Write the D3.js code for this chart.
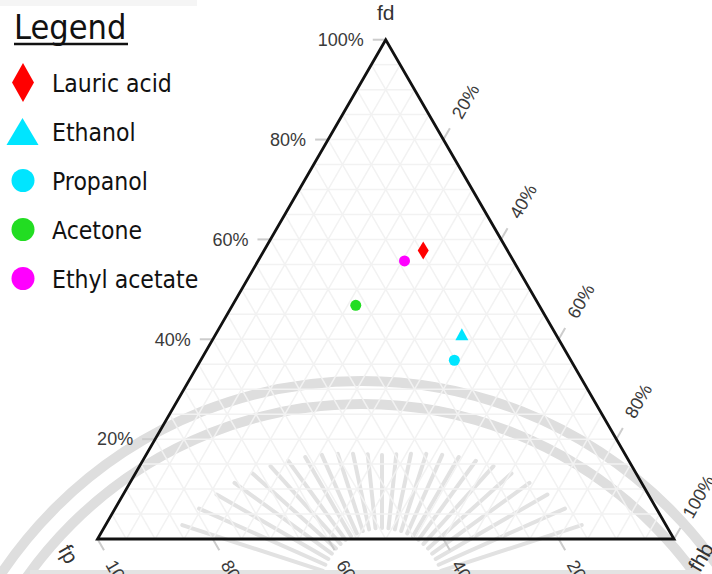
<!DOCTYPE html>
<html>
<head>
<meta charset="utf-8">
<script src="https://cdn.jsdelivr.net/npm/d3@7"></script>
<style>
  html, body { margin: 0; padding: 0; background: #fff; }
  svg { display: block; }
</style>
</head>
<body>
<script>
// Solvent components and their fractional solubility parameters (fd, fp, fhb)
const components = ["Lauric acid", "Ethanol", "Propanol", "Acetone", "Ethyl acetate"];
const fd  = [0.578, 0.410, 0.358, 0.468, 0.557];
const fp  = [0.146, 0.163, 0.202, 0.318, 0.189];
const fhb = [0.276, 0.427, 0.440, 0.214, 0.254];
const markerShapes = ["diamond", "triangle", "circle", "circle", "circle"];
const markerColors = ["#ff0000", "#00e5ff", "#00e5ff", "#22dd22", "#ff00ff"];

const axisTitles = { a: "fd", b: "fp", c: "fhb" };
const tickValues = [0.2, 0.4, 0.6, 0.8, 1.0];
const gridValues = d3.range(1, 20).map(i => i / 20);
const pct = d3.format(".0%");

const W = 712, H = 574;
const svg = d3.select("body").append("svg").attr("width", W).attr("height", H);

// Ternary projection: x from (c + a/2), y from a
const xScale = d3.scaleLinear().domain([0, 1]).range([97.5, 674]);
const yScale = d3.scaleLinear().domain([0, 1]).range([539, 39.7]);
function proj(a, b, c) {
  const s = a + b + c;
  return [xScale((c + a / 2) / s), yScale(a / s)];
}

const tickFont = "'Liberation Sans', Arial, sans-serif";
const legendFont = "'DejaVu Sans Condensed', 'DejaVu Sans', sans-serif";

// ---- faint background emblem (arcs + sunburst) ----
const emblem = svg.append("g").attr("class", "emblem").attr("fill", "none");
const arcCenter = [362, 815];
[434, 411].forEach(r => {
  emblem.append("circle")
    .attr("cx", arcCenter[0]).attr("cy", arcCenter[1]).attr("r", r)
    .attr("stroke", "#dedede").attr("stroke-width", 10);
});
const rayCenter = [382, 590];
d3.range(-72, 73, 6).forEach(deg => {
  const t = deg * Math.PI / 180;
  const r0 = 62, r1 = 135 + 75 * Math.pow(Math.abs(deg) / 72, 1.6);
  emblem.append("line")
    .attr("x1", rayCenter[0] + r0 * Math.sin(t)).attr("y1", rayCenter[1] - r0 * Math.cos(t))
    .attr("x2", rayCenter[0] + r1 * Math.sin(t)).attr("y2", rayCenter[1] - r1 * Math.cos(t))
    .attr("stroke", "#e2e2e2").attr("stroke-width", 4).attr("stroke-linecap", "round");
});
emblem.append("rect").attr("x", 30).attr("y", 570).attr("width", 670).attr("height", 4)
  .attr("fill", "#e3e3e3");

// ---- grid ----
const grid = svg.append("g").attr("stroke", "#f2f2f2").attr("stroke-width", 1.5);
gridValues.forEach(v => {
  [[proj(v, 1 - v, 0), proj(v, 0, 1 - v)],
   [proj(1 - v, v, 0), proj(0, v, 1 - v)],
   [proj(1 - v, 0, v), proj(0, 1 - v, v)]].forEach(([p, q]) => {
    grid.append("line").attr("x1", p[0]).attr("y1", p[1]).attr("x2", q[0]).attr("y2", q[1]);
  });
});

// ---- ticks and tick labels ----
const ticks = svg.append("g");
const tickLen = 13, labelGap = 26;
function addTick(P, dir, label, rot, anchor, gap) {
  ticks.append("line")
    .attr("x1", P[0]).attr("y1", P[1])
    .attr("x2", P[0] + tickLen * dir[0]).attr("y2", P[1] + tickLen * dir[1])
    .attr("stroke", "#cccccc").attr("stroke-width", 2);
  const lx = P[0] + gap * dir[0], ly = P[1] + gap * dir[1];
  ticks.append("text")
    .attr("transform", `translate(${lx},${ly}) rotate(${rot})`)
    .attr("text-anchor", anchor).attr("dy", "0.35em")
    .attr("font-family", tickFont).attr("font-size", 18).attr("fill", "#3a3a3a")
    .text(label);
}
const sin60 = Math.sqrt(3) / 2;
tickValues.forEach(v => {
  addTick(proj(v, 1 - v, 0), [-1, 0], pct(v), 0, "end", 22);        // fd along left edge
  addTick(proj(0, v, 1 - v), [0.5, sin60], pct(v), 60, "start", labelGap);   // fp along bottom
  addTick(proj(1 - v, 0, v), [0.5, -sin60], pct(v), -60, "start", labelGap); // fhb along right edge
});

// ---- triangle outline ----
const corners = [proj(1, 0, 0), proj(0, 1, 0), proj(0, 0, 1)];
svg.append("path")
  .attr("d", d3.line()(corners) + "Z")
  .attr("fill", "none").attr("stroke", "#111").attr("stroke-width", 2.8)
  .attr("stroke-linejoin", "miter");

// ---- axis titles ----
const titleG = svg.append("g").attr("font-family", tickFont).attr("font-size", 21).attr("fill", "#333");
titleG.append("text").attr("x", proj(1, 0, 0)[0]).attr("y", 20).attr("text-anchor", "middle").text(axisTitles.a);
titleG.append("text").attr("transform", `translate(${proj(0, 1, 0)[0] - 29},${proj(0, 1, 0)[1] + 15}) rotate(60)`)
  .attr("text-anchor", "middle").attr("dy", "0.35em").text(axisTitles.b);
titleG.append("text").attr("transform", `translate(${proj(0, 0, 1)[0] + 27},${proj(0, 0, 1)[1] + 18}) rotate(-60)`)
  .attr("text-anchor", "middle").attr("dy", "0.35em").text(axisTitles.c);

// ---- marker shapes ----
function markerPath(shape, w, h) {
  if (shape === "diamond") return `M0,${-h / 2}L${w / 2},0L0,${h / 2}L${-w / 2},0Z`;
  if (shape === "triangle") return `M0,${-h / 2}L${w / 2},${h / 2}L${-w / 2},${h / 2}Z`;
  return d3.symbol(d3.symbolCircle, Math.PI * (w / 2) * (w / 2))();
}
const plotSize = { diamond: [11, 18], triangle: [13, 12], circle: [11, 11] };
const legendSize = { diamond: [22, 39], triangle: [32, 27], circle: [23, 23] };

const points = components.map((name, i) => ({
  name, shape: markerShapes[i], color: markerColors[i], pos: proj(fd[i], fp[i], fhb[i])
}));
svg.append("g").selectAll("path").data(points).join("path")
  .attr("transform", d => `translate(${d.pos[0]},${d.pos[1]})`)
  .attr("d", d => markerPath(d.shape, ...plotSize[d.shape]))
  .attr("fill", d => d.color);

// ---- legend ----
const legend = svg.append("g");
legend.append("rect").attr("x", 0).attr("y", 0).attr("width", 197).attr("height", 6).attr("fill", "#f5f5f5");
legend.append("text").attr("x", 14).attr("y", 39)
  .attr("font-family", legendFont).attr("font-size", 34).attr("fill", "#111")
  .text("Legend");
legend.append("line").attr("x1", 14).attr("x2", 128).attr("y1", 44).attr("y2", 44)
  .attr("stroke", "#111").attr("stroke-width", 2.5);
const rowY = d3.scaleLinear().domain([0, 4]).range([82.5, 278.5]);
const rows = legend.selectAll("g.row").data(points).join("g").attr("class", "row")
  .attr("transform", (d, i) => `translate(0,${rowY(i)})`);
rows.append("path")
  .attr("transform", d => d.shape === "triangle" ? "translate(22.5,0)" : "translate(23,0)")
  .attr("d", d => markerPath(d.shape, ...legendSize[d.shape]))
  .attr("fill", d => d.color);
rows.append("text").attr("x", 52).attr("y", 9)
  .attr("font-family", legendFont).attr("font-size", 24.5).attr("fill", "#111")
  .text(d => d.name);
</script>
</body>
</html>
